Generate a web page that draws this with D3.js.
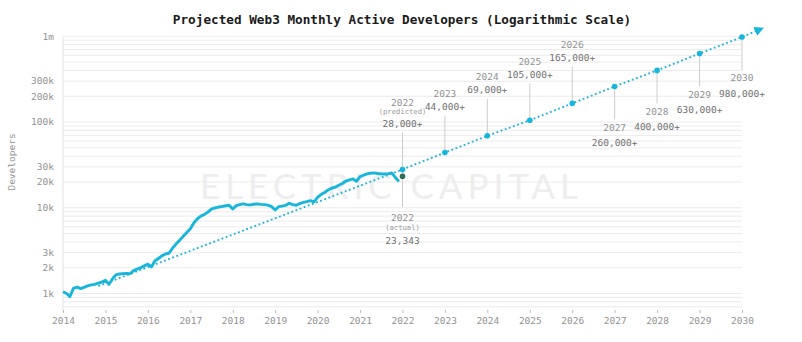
<!DOCTYPE html>
<html>
<head>
<meta charset="utf-8">
<script src="https://cdn.jsdelivr.net/npm/d3@7"></script>
<style>
  body { margin: 0; background: #fff; }
  svg text { font-family: "DejaVu Sans Mono", "Liberation Mono", monospace; }
</style>
</head>
<body>
<div id="chart"></div>
<script>
// monthly active developers (Jan 2014 - Dec 2021)
var months = [];
for (var y = 2014; y <= 2021; y++) {
    for (var m = 1; m <= 12; m++) months.push(y + "-" + (m < 10 ? "0" + m : m));
}
var developers = [
    1050, 1000, 920, 1150, 1190, 1140, 1180, 1225, 1260, 1280, 1320, 1360,        // 2014
    1430, 1280, 1470, 1650, 1690, 1705, 1720, 1700, 1850, 1930, 2000, 2100,       // 2015
    2200, 2040, 2400, 2560, 2750, 2890, 2950, 3380, 3800, 4170, 4650, 5150,       // 2016
    5700, 6700, 7400, 8000, 8350, 8900, 9650, 9950, 10200, 10350, 10550, 10700,   // 2017
    9700, 10590, 10900, 11090, 10900, 10790, 11000, 11090, 10950, 10900, 10750, 10300, // 2018
    9420, 10300, 10450, 10650, 11300, 10900, 10700, 11200, 11570, 11800, 12110, 11700, // 2019
    13200, 14300, 15100, 16100, 16900, 17400, 18300, 19200, 20500, 21200, 21700, 20400, // 2020
    23100, 24000, 24900, 25300, 25500, 25100, 24900, 24800, 25000, 25500, 22500, 20300  // 2021
];

// projection (dotted line)
var projMonths = ["2014-11", "2022-01", "2023-01", "2024-01", "2025-01", "2026-01",
                  "2027-01", "2028-01", "2029-01", "2030-01", "2030-06"];
var projValues = [1220, 28000, 44000, 69000, 105000, 165000, 260000, 400000, 630000, 980000, 1200000];

// annotated projection points
var annYears = [2022, 2023, 2024, 2025, 2026, 2027, 2028, 2029, 2030];
var annValues = [28000, 44000, 69000, 105000, 165000, 260000, 400000, 630000, 980000];
var annLabels = ["28,000+", "44,000+", "69,000+", "105,000+", "165,000+",
                 "260,000+", "400,000+", "630,000+", "980,000+"];
var annBelow = [false, false, false, false, false, true, true, true, true];

var actualYear = 2022;
var actualValue = 23343;
var actualLabel = "23,343";

var yTicks = [1000, 2000, 3000, 10000, 20000, 30000, 100000, 200000, 300000, 1000000];
var yTickLabels = ["1k", "2k", "3k", "10k", "20k", "30k", "100k", "200k", "300k", "1m"];

var width = 802, height = 342;
var cyan = "#18b6da";

var parseMonth = d3.timeParse("%Y-%m");

var svg = d3.select("#chart").append("svg")
    .attr("width", width)
    .attr("height", height);

var x = d3.scaleTime()
    .domain([new Date(2014, 0, 1), new Date(2030, 0, 1)])
    .range([63, 742]);

var y = d3.scaleLog()
    .domain([660, 1000000])
    .range([309, 36.3]);

// watermark
svg.append("text")
    .attr("x", 200)
    .attr("y", 199)
    .attr("textLength", 378)
    .attr("lengthAdjust", "spacing")
    .style("font-family", "Lato, 'Open Sans', sans-serif")
    .style("font-weight", 400)
    .style("font-size", "35px")
    .style("fill", "#eeeeee")
    .text("ELECTRIC CAPITAL");

// gridlines on every log minor step
var gridValues = [700, 800, 900];
[1000, 10000, 100000].forEach(function(d) {
    for (var k = 1; k < 10; k++) gridValues.push(d * k);
});
gridValues.push(1000000);

svg.append("g")
    .selectAll("line")
    .data(gridValues)
    .enter()
    .append("line")
      .attr("x1", x.range()[0])
      .attr("x2", x.range()[1])
      .attr("y1", function(d) { return y(d); })
      .attr("y2", function(d) { return y(d); })
      .attr("stroke", "#ebebeb")
      .attr("stroke-width", 1);

// left axis line
svg.append("line")
    .attr("x1", 63).attr("x2", 63)
    .attr("y1", y(1000000)).attr("y2", 310)
    .attr("stroke", "#e2e2e2");

// y labels
svg.append("g")
    .selectAll("text")
    .data(yTicks)
    .enter()
    .append("text")
      .attr("x", 54)
      .attr("y", function(d) { return y(d); })
      .attr("dy", "0.35em")
      .attr("text-anchor", "end")
      .style("font-size", "9.5px")
      .style("fill", "#929292")
      .text(function(d, i) { return yTickLabels[i]; });

svg.append("text")
    .attr("transform", "translate(12,162) rotate(-90)")
    .attr("text-anchor", "middle")
    .attr("dy", "0.35em")
    .style("font-size", "9.5px")
    .style("fill", "#929292")
    .text("Developers");

// x axis
var xAxis = d3.axisBottom(x)
    .ticks(d3.timeYear.every(1))
    .tickFormat(d3.timeFormat("%Y"))
    .tickSize(3)
    .tickPadding(4);

var xg = svg.append("g")
    .attr("transform", "translate(0,310)")
    .call(xAxis);
xg.select(".domain").remove();
xg.selectAll(".tick line").attr("stroke", "#bbb");
xg.selectAll(".tick text")
    .style("font-family", "'DejaVu Sans Mono', monospace")
    .style("font-size", "9.5px")
    .style("fill", "#929292");

// title
svg.append("text")
    .attr("x", 402)
    .attr("y", 24)
    .attr("text-anchor", "middle")
    .style("font-size", "12.7px")
    .style("font-weight", "bold")
    .style("fill", "#1a1a1a")
    .text("Projected Web3 Monthly Active Developers (Logarithmic Scale)");

// annotation leader lines
function annX(yr) { return x(new Date(yr, 0, 1)); }

svg.append("g")
    .selectAll("line")
    .data(annYears)
    .enter()
    .append("line")
      .attr("x1", function(d) { return annX(d); })
      .attr("x2", function(d) { return annX(d); })
      .attr("y1", function(d, i) {
          var py = y(annValues[i]);
          if (d == actualYear) return py - 37;
          return annBelow[i] ? py : py - 37; })
      .attr("y2", function(d, i) {
          var py = y(annValues[i]);
          if (d == actualYear) return y(actualValue) + 31;
          return annBelow[i] ? py + 33 : py; })
      .attr("stroke", "#cccccc")
      .attr("stroke-width", 1);

// actual line
var line = d3.line()
    .x(function(d, i) { return x(parseMonth(months[i])); })
    .y(function(d) { return y(d); })
    .curve(d3.curveLinear);

svg.append("path")
    .datum(developers)
    .attr("d", line)
    .attr("fill", "none")
    .attr("stroke", cyan)
    .attr("stroke-width", 2.9)
    .attr("stroke-linejoin", "round");

// projection
svg.append("defs").append("marker")
    .attr("id", "arrow")
    .attr("viewBox", "0 0 10 10")
    .attr("refX", 5)
    .attr("refY", 5)
    .attr("markerWidth", 5)
    .attr("markerHeight", 5)
    .attr("markerUnits", "strokeWidth")
    .attr("orient", "auto")
    .append("path")
      .attr("d", "M0,0 L10,5 L0,10 Z")
      .attr("fill", cyan);

var projLine = d3.line()
    .x(function(d, i) { return x(parseMonth(projMonths[i])); })
    .y(function(d) { return y(d); });

svg.append("path")
    .datum(projValues)
    .attr("d", projLine)
    .attr("fill", "none")
    .attr("stroke", cyan)
    .attr("stroke-width", 1.9)
    .attr("stroke-dasharray", "1.8,2.6")
    .attr("marker-end", "url(#arrow)");

svg.append("g")
    .selectAll("circle")
    .data(annValues)
    .enter()
    .append("circle")
      .attr("cx", function(d, i) { return annX(annYears[i]); })
      .attr("cy", function(d) { return y(d); })
      .attr("r", 2.8)
      .attr("fill", cyan);

svg.append("circle")
    .attr("cx", annX(actualYear))
    .attr("cy", y(actualValue))
    .attr("r", 2.8)
    .attr("fill", "#2f6e5a");

// annotation labels
var labels = svg.append("g");
annYears.forEach(function(yr, i) {
    var px = annX(yr);
    var py = y(annValues[i]);
    var yearY, valY;
    if (yr == actualYear) {
        var top = py - 37;
        labels.append("text").attr("x", px).attr("y", top - 30).attr("dy", "0.35em")
            .attr("text-anchor", "middle").style("font-size", "9.5px").style("fill", "#929292").text(yr);
        labels.append("text").attr("x", px).attr("y", top - 21).attr("dy", "0.35em")
            .attr("text-anchor", "middle").style("font-size", "7.2px").style("fill", "#999").text("(predicted)");
        labels.append("text").attr("x", px).attr("y", top - 9).attr("dy", "0.35em")
            .attr("text-anchor", "middle").style("font-size", "9.5px").style("fill", "#707070").text(annLabels[i]);
        return;
    }
    if (annBelow[i]) {
        yearY = py + 33 + 8;
        valY = py + 33 + 23.5;
    } else {
        yearY = py - 37 - 22;
        valY = py - 37 - 9;
    }
    labels.append("text").attr("x", px).attr("y", yearY).attr("dy", "0.35em")
        .attr("text-anchor", "middle").style("font-size", "9.5px").style("fill", "#929292").text(yr);
    labels.append("text").attr("x", px).attr("y", valY).attr("dy", "0.35em")
        .attr("text-anchor", "middle").style("font-size", "9.5px").style("fill", "#707070").text(annLabels[i]);
});

// actual 2022 label
var ax = annX(actualYear);
var bottom = y(actualValue) + 31;
labels.append("text").attr("x", ax).attr("y", bottom + 10).attr("dy", "0.35em")
    .attr("text-anchor", "middle").style("font-size", "9.5px").style("fill", "#929292").text(actualYear);
labels.append("text").attr("x", ax).attr("y", bottom + 20).attr("dy", "0.35em")
    .attr("text-anchor", "middle").style("font-size", "7.2px").style("fill", "#999").text("(actual)");
labels.append("text").attr("x", ax).attr("y", bottom + 33).attr("dy", "0.35em")
    .attr("text-anchor", "middle").style("font-size", "9.5px").style("fill", "#707070").text(actualLabel);
</script>
</body>
</html>
